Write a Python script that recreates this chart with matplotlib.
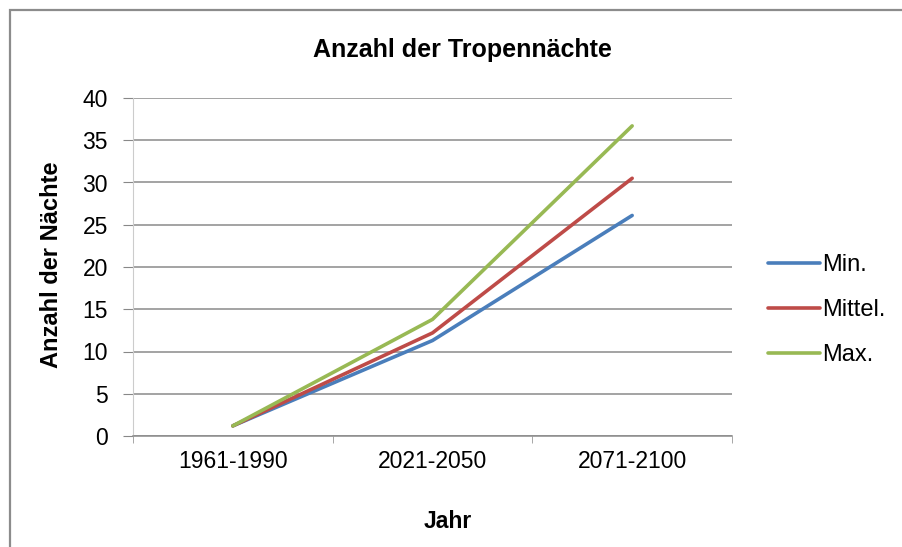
import matplotlib
matplotlib.use("Agg")
import matplotlib.pyplot as plt
from matplotlib.patches import Rectangle

# data
categories = ["1961-1990", "2021-2050", "2071-2100"]
series_names = ["Min.", "Mittel.", "Max."]
min_vals = [1.2, 11.3, 26.1]
mittel_vals = [1.2, 12.2, 30.5]
max_vals = [1.2, 13.8, 36.7]
y_ticks = [0, 5, 10, 15, 20, 25, 30, 35, 40]

colors = ["#4A7EBB", "#BE4B48", "#98B954"]

plt.rcParams['font.family'] = ['Liberation Sans', 'DejaVu Sans']

fig = plt.figure(figsize=(9.03, 5.47), dpi=100)
ax = fig.add_axes([133/903, 1 - 436/547, (732 - 133)/903, (436 - 98)/547])

# outer chart frame (only top/left visible in reference)
fig.patches.append(Rectangle((10/903, -0.1), 1.2, 1 - 9.5/547 + 0.1,
                             transform=fig.transFigure, fill=False,
                             edgecolor="#8c8c8c", linewidth=1.6))

x = list(range(len(categories)))
for vals, name, c in zip([min_vals, mittel_vals, max_vals], series_names, colors):
    ax.plot(x, vals, color=c, linewidth=2.6, label=name, solid_capstyle='round')

ax.set_xlim(-0.5, len(categories) - 0.5)
ax.set_ylim(0, 40)
ax.set_yticks(y_ticks)
ax.set_xticks(x)
ax.set_xticklabels(categories)
ax.set_xticks([i - 0.5 for i in range(len(categories) + 1)], minor=True)
ax.tick_params(axis='x', which='major', length=0, pad=10, labelsize=16.5)
ax.tick_params(axis='x', which='minor', length=5, color="#999999", direction='out')
ax.tick_params(axis='y', length=7, color="#888888", pad=11, labelsize=16.5)

ax.yaxis.grid(True, color="#8a8a8a", linewidth=1.1)
ax.set_axisbelow(True)
for side in ["top", "right"]:
    ax.spines[side].set_visible(False)
ax.spines["left"].set_color("#cccccc")
ax.spines["bottom"].set_color("#8a8a8a")
ax.spines["bottom"].set_linewidth(1.1)

fig.text(462/903, 1 - 50/547, "Anzahl der Tropennächte", ha='center', va='center',
         fontsize=18, fontweight='bold')
fig.text(52/903, 1 - 265/547, "Anzahl der Nächte", ha='center', va='center',
         rotation=90, fontsize=17, fontweight='bold')
fig.text(448/903, 1 - 521/547, "Jahr", ha='center', va='center',
         fontsize=16.5, fontweight='bold')

leg_fs = 17
leg_px = leg_fs * 100 / 72
fig.legend(loc='center left', bbox_to_anchor=((768 - 0.9 * leg_px)/903, 1 - 310/547),
           frameon=False, fontsize=leg_fs, labelspacing=0.98, handlelength=2.2,
           handletextpad=0.1)

fig.savefig("out.png", dpi=100)
